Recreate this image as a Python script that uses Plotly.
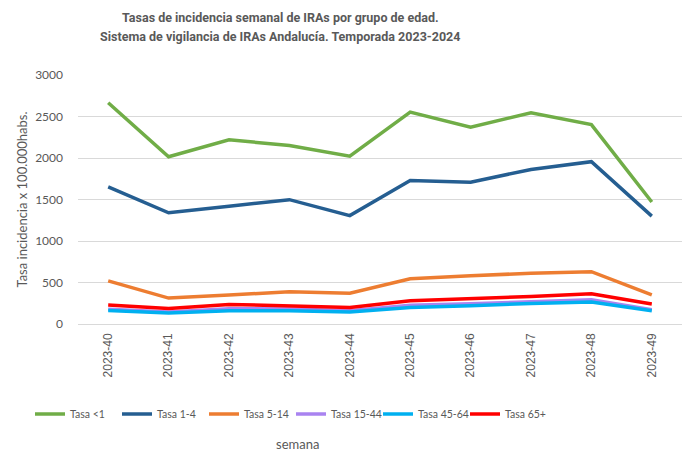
import plotly.graph_objects as go

semanas = ["2023-40", "2023-41", "2023-42", "2023-43", "2023-44",
           "2023-45", "2023-46", "2023-47", "2023-48", "2023-49"]
tasa_menor1 = [2665, 2015, 2220, 2150, 2022, 2553, 2372, 2546, 2402, 1470]
tasa_1_4 = [1652, 1340, 1420, 1498, 1306, 1728, 1709, 1862, 1956, 1300]
tasa_5_14 = [520, 312, 350, 388, 370, 545, 580, 612, 630, 352]
tasa_15_44 = [178, 145, 185, 180, 160, 225, 245, 268, 292, 172]
tasa_45_64 = [164, 132, 160, 160, 144, 200, 220, 248, 264, 160]
tasa_65 = [228, 188, 236, 216, 200, 280, 304, 332, 364, 240]

title_lines = ["Tasas de incidencia semanal de IRAs por grupo de edad.",
               "Sistema de vigilancia de IRAs Andalucía. Temporada 2023-2024"]

series = [
    ("Tasa <1", tasa_menor1, "#70AD47"),
    ("Tasa 1-4", tasa_1_4, "#255E91"),
    ("Tasa 5-14", tasa_5_14, "#ED7D31"),
    ("Tasa 15-44", tasa_15_44, "#A983F0"),
    ("Tasa 45-64", tasa_45_64, "#00B0F0"),
    ("Tasa 65+", tasa_65, "#FF0000"),
]

GRAY = "#595959"
PL, PT, PW, PH = 78, 75, 604, 249  # plot area in pixels


def px_x(x):
    return (x - PL) / PW


def px_y(y):
    return (PT + PH - y) / PH


fig = go.Figure()
for name, vals, color in series:
    fig.add_trace(go.Scatter(x=semanas, y=vals, name=name, mode="lines",
                             line=dict(color=color, width=3.5)))

annotations = []
for line, ypx in zip(title_lines, [17, 36]):
    annotations.append(dict(
        text="<b>" + line + "</b>", xref="paper", yref="paper",
        x=px_x(280), y=px_y(ypx), xanchor="center", yanchor="middle",
        showarrow=False,
        font=dict(family="Roboto, Liberation Sans, sans-serif", size=12.5, color=GRAY)))
annotations.append(dict(
    text="semana", xref="paper", yref="paper",
    x=px_x(297), y=px_y(444), xanchor="center", yanchor="middle", showarrow=False,
    font=dict(family="Lato, sans-serif", size=13, color=GRAY)))

fig.update_layout(
    width=692, height=453,
    margin=dict(l=PL, r=692 - PL - PW, t=PT, b=453 - PT - PH),
    plot_bgcolor="white", paper_bgcolor="white",
    xaxis=dict(
        type="category", range=[-0.5, 9.5], tickangle=-90,
        tickfont=dict(family="Liberation Sans, Arial, sans-serif", size=12, color=GRAY),
        showgrid=False, showline=False, ticks="", zeroline=False,
        ticklabelstandoff=6,
    ),
    yaxis=dict(
        range=[0, 3000], dtick=500, showgrid=True, gridcolor="#D9D9D9", gridwidth=1,
        zeroline=True, zerolinecolor="#D9D9D9", zerolinewidth=1,
        tickfont=dict(family="Lato, sans-serif", size=12, color=GRAY),
        ticklabelstandoff=14,
        title=dict(text="Tasa incidencia x 100.000habs.",
                   font=dict(family="Lato, sans-serif", size=13, color=GRAY),
                   standoff=4),
    ),
    legend=dict(
        orientation="h", xref="container", yref="container",
        x=30 / 692, xanchor="left", y=1 - 414 / 453, yanchor="middle",
        font=dict(family="Lato, sans-serif", size=10.5, color=GRAY),
        itemwidth=30, entrywidth=42, entrywidthmode="pixels",
    ),
    showlegend=True,
    annotations=annotations,
)

fig.write_html("out.html", config={"displayModeBar": False},
               post_script="document.body.style.margin='0px';")
